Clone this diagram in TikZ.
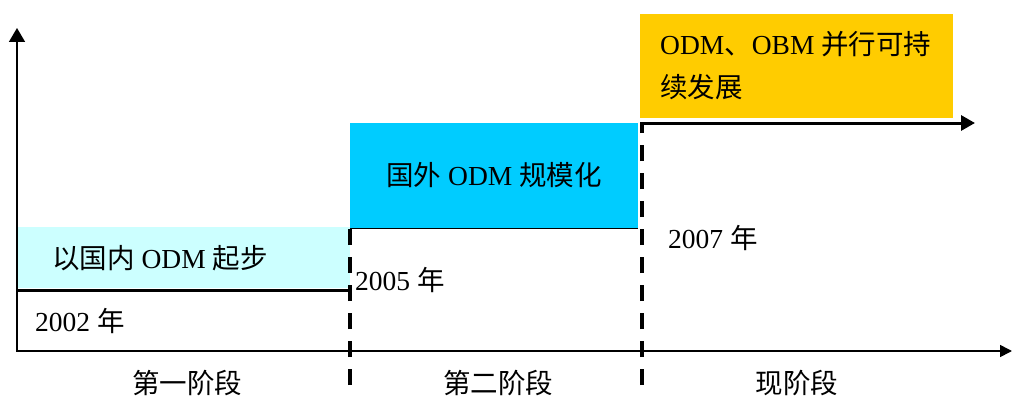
\documentclass[tikz,border=0pt]{standalone}
\usepackage{fontspec}
\setmainfont{Liberation Serif}
\newfontfamily\cjk{Noto Sans CJK SC}
\usetikzlibrary{arrows.meta}
\definecolor{lightcyan}{HTML}{CCFFFF}
\definecolor{skycyan}{HTML}{00CCFF}
\definecolor{gold}{HTML}{FFCC00}
\begin{document}
\begin{tikzpicture}[x=1pt,y=-1pt,
  txt/.style={inner sep=0pt, font=\fontsize{27.5}{43}\selectfont},
  box/.style={draw=none, inner sep=0pt, outer sep=0pt, anchor=north west},
  stepline/.style={line width=3pt},
  dashline/.style={line width=3.6pt, dash pattern=on 16pt off 12pt},
  axisline/.style={line width=1.6pt}]
\useasboundingbox (0,0) rectangle (1013,396);
% boxes
\node[box, fill=lightcyan, minimum width=333pt, minimum height=61pt] (b1) at (17,227) {};
\node[box, fill=skycyan, minimum width=288pt, minimum height=105pt] (b2) at (350,123) {};
\node[box, fill=gold, minimum width=313pt, minimum height=104pt] (b3) at (640,14) {};
\draw[line width=1pt] (b2.south west) -- (b2.south east);
% coordinates
\coordinate (O) at (17,351);
\coordinate (ytip) at (17,28);
\coordinate (xs) at (16,351);
\coordinate (xtip) at (1012,351);
\coordinate (s1a) at (17,290);
\coordinate (s1b) at (350,290);
\coordinate (d1a) at (350,228);
\coordinate (d1b) at (350,385);
\coordinate (d2a) at (642,123);
\coordinate (d2b) at (642,385);
\coordinate (s3a) at (640,123);
\coordinate (s3b) at (975,123);
% axes
\draw[axisline, -{Triangle[length=14pt,width=16pt]}] (O) -- (ytip);
\draw[axisline, -{Triangle[length=12pt,width=12pt]}] (xs) -- (xtip);
% steps
\draw[stepline] (s1a) -- (s1b);
\draw[dashline] (d1b) -- (d1a);
\draw[dashline] (d2b) -- (d2a);
\draw[stepline, -{Triangle[length=14pt,width=15pt]}] (s3a) -- (s3b);
% texts
\node[txt, anchor=west] (t1) at (52,258) {{\cjk 以国内} ODM {\cjk 起步}};
\node[txt] (t2) at (b2.center) {{\cjk 国外} ODM {\cjk 规模化}};
\node[txt, anchor=west, align=left] (t3) at (660,66) {ODM{\cjk 、}OBM {\cjk 并行可持}\\{\cjk 续发展}};
\node[txt, anchor=west] (y1) at (35,321) {2002 {\cjk 年}};
\node[txt, anchor=west] (y2) at (355,280) {2005 {\cjk 年}};
\node[txt, anchor=west] (y3) at (668,238) {2007 {\cjk 年}};
\node[txt] (p1) at (187,383) {\cjk 第一阶段};
\node[txt] (p2) at (498,383) {\cjk 第二阶段};
\node[txt] (p3) at (797,383) {\cjk 现阶段};
\end{tikzpicture}
\end{document}
